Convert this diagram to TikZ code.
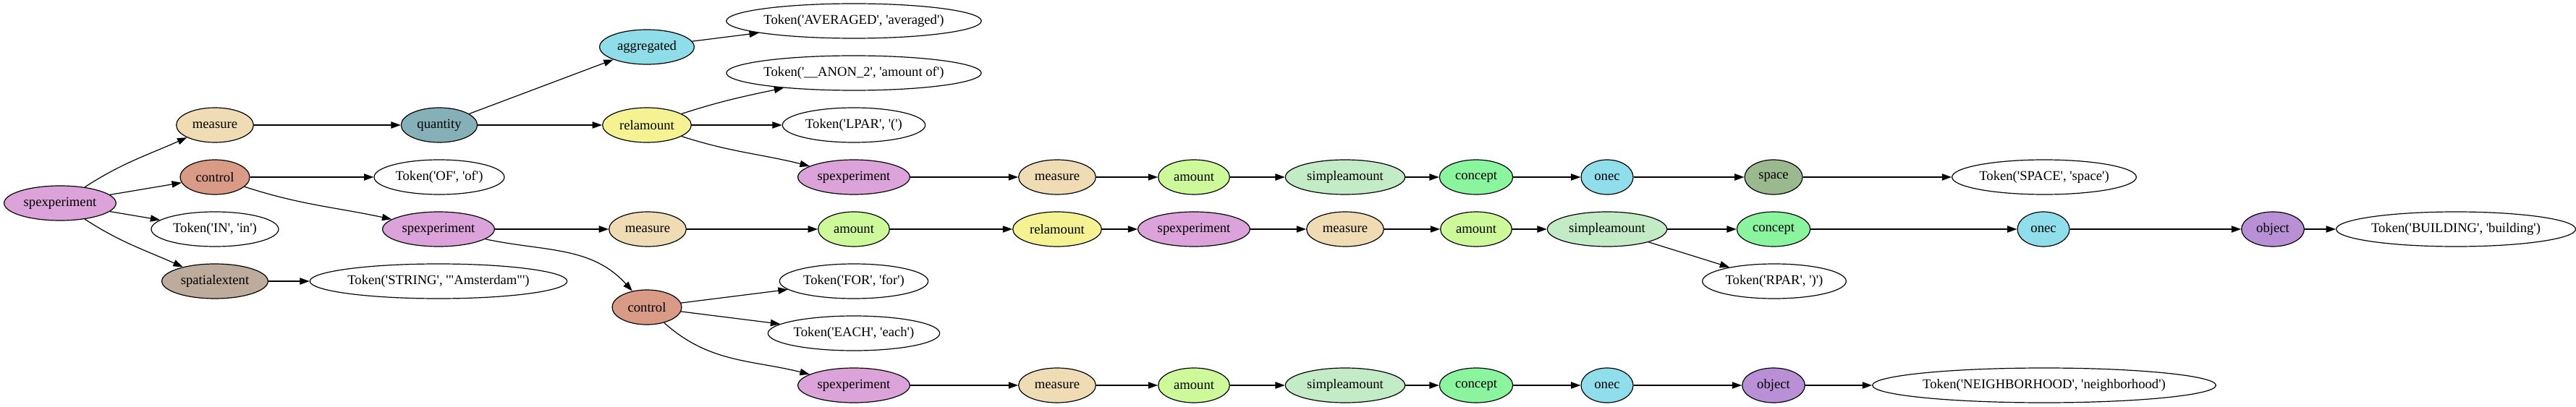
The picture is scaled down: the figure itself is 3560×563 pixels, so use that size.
\documentclass[tikz,border=0pt]{standalone}
\usepackage{fontspec}
\newfontfamily\gvfont{Liberation Serif}
\usetikzlibrary{shapes.geometric,arrows.meta}
\definecolor{cplum}{HTML}{DBA3D9}
\definecolor{cwheat}{HTML}{F0DCB4}
\definecolor{csalmon}{HTML}{D99A86}
\definecolor{ctan}{HTML}{BDAB9B}
\definecolor{ccadet}{HTML}{86B0B8}
\definecolor{ccyan}{HTML}{8FDDE8}
\definecolor{cyellow}{HTML}{F5F294}
\definecolor{clime}{HTML}{CEF99A}
\definecolor{cmint}{HTML}{C3EBC6}
\definecolor{cgreen}{HTML}{8AF59E}
\definecolor{csky}{HTML}{90DEEC}
\definecolor{csage}{HTML}{9BB98E}
\definecolor{cviolet}{HTML}{B98FD6}
\begin{document}
\begin{tikzpicture}[x=0.75pt,y=0.75pt,
  gv/.style={ellipse,draw=black,line width=0.9pt,minimum height=36pt,inner sep=0pt,
    font=\gvfont\fontsize{14}{16}\selectfont},
  tok/.style={gv,fill=white},
  spx/.style={gv,fill=cplum,minimum width=116pt},
  msr/.style={gv,fill=cwheat,minimum width=80pt},
  ctl/.style={gv,fill=csalmon,minimum width=72pt},
  spat/.style={gv,fill=ctan,minimum width=110pt},
  qty/.style={gv,fill=ccadet,minimum width=79pt},
  agg/.style={gv,fill=ccyan,minimum width=98pt},
  rel/.style={gv,fill=cyellow,minimum width=92pt},
  amt/.style={gv,fill=clime,minimum width=74pt},
  simp/.style={gv,fill=cmint,minimum width=124pt},
  cpt/.style={gv,fill=cgreen,minimum width=76pt},
  onc/.style={gv,fill=csky,minimum width=54pt},
  spc/.style={gv,fill=csage,minimum width=60pt},
  obj/.style={gv,fill=cviolet,minimum width=65pt},
  arr/.style={-{Triangle[length=10pt,width=7pt]},line width=0.9pt}]
\useasboundingbox (0,0) rectangle (3560,-563);
% nodes
\node[spx] (n1) at (83,-281) {spexperiment};
\node[msr] (n2) at (297,-173) {measure};
\node[ctl] (n3) at (297,-245) {control};
\node[tok,minimum width=132pt] (n4) at (297,-317) {Token('IN', 'in')};
\node[spat] (n5) at (297,-389) {spatialextent};
\node[qty] (n6) at (607,-173) {quantity};
\node[tok,minimum width=135pt] (n7) at (607,-245) {Token('OF', 'of')};
\node[spx] (n8) at (606,-317) {spexperiment};
\node[tok,minimum width=262pt] (n9) at (606,-389) {Token('STRING', '"Amsterdam"')};
\node[agg] (n10) at (894,-65) {aggregated};
\node[rel] (n11) at (894,-173) {relamount};
\node[msr] (n12) at (895,-317) {measure};
\node[ctl] (n13) at (894,-425) {control};
\node[tok,minimum width=257pt] (n14) at (1180,-29) {Token('AVERAGED', 'averaged')};
\node[tok,minimum width=258pt] (n15) at (1180,-101) {Token('\_\_ANON\_2', 'amount of')};
\node[tok,minimum width=148pt] (n16) at (1180,-173) {Token('LPAR', '(')};
\node[spx] (n17) at (1180,-245) {spexperiment};
\node[amt] (n18) at (1180,-317) {amount};
\node[tok,minimum width=154pt] (n19) at (1180,-389) {Token('FOR', 'for')};
\node[tok,minimum width=178pt] (n20) at (1180,-461) {Token('EACH', 'each')};
\node[spx] (n21) at (1180,-533) {spexperiment};
\node[msr] (n22) at (1461,-245) {measure};
\node[rel] (n23) at (1461,-317) {relamount};
\node[msr] (n24) at (1461,-533) {measure};
\node[amt] (n25) at (1650,-245) {amount};
\node[spx] (n26) at (1650,-317) {spexperiment};
\node[amt] (n27) at (1650,-533) {amount};
\node[simp] (n28) at (1859,-245) {simpleamount};
\node[msr] (n29) at (1859,-317) {measure};
\node[simp] (n30) at (1859,-533) {simpleamount};
\node[cpt] (n31) at (2040,-245) {concept};
\node[amt] (n32) at (2040,-317) {amount};
\node[cpt] (n33) at (2040,-533) {concept};
\node[onc] (n34) at (2221,-245) {onec};
\node[simp] (n35) at (2221,-317) {simpleamount};
\node[onc] (n36) at (2221,-533) {onec};
\node[spc] (n37) at (2451,-245) {space};
\node[cpt] (n38) at (2451,-317) {concept};
\node[obj] (n39) at (2451,-533) {object};
\node[tok,minimum width=149pt] (n40) at (2452,-389) {Token('RPAR', ')')};
\node[tok,minimum width=191pt] (n41) at (2825,-245) {Token('SPACE', 'space')};
\node[onc] (n42) at (2824,-317) {onec};
\node[tok,minimum width=338pt] (n43) at (2825,-533) {Token('NEIGHBORHOOD', 'neighborhood')};
\node[obj] (n44) at (3141,-317) {object};
\node[tok,minimum width=242pt] (n45) at (3394,-317) {Token('BUILDING', 'building')};
% edges
\draw[arr] (n1) to[out=33,in=204] (n2);
\draw[arr] (n1) -- (n3);
\draw[arr] (n1) -- (n4);
\draw[arr] (n1) to[out=-33,in=156] (n5);
\draw[arr] (n2) -- (n6);
\draw[arr] (n3) -- (n7);
\draw[arr] (n3) to[out=-18,in=168] (n8);
\draw[arr] (n5) -- (n9);
\draw[arr] (n6) -- (n10);
\draw[arr] (n6) -- (n11);
\draw[arr] (n10) -- (n14);
\draw[arr] (n11) to[out=18,in=192] (n15);
\draw[arr] (n11) -- (n16);
\draw[arr] (n11) to[out=-18,in=166] (n17);
\draw[arr] (n8) -- (n12);
\draw[arr] (n8) to[out=-12,in=132] (n13);
\draw[arr] (n12) -- (n18);
\draw[arr] (n18) -- (n23);
\draw[arr] (n23) -- (n26);
\draw[arr] (n26) -- (n29);
\draw[arr] (n29) -- (n32);
\draw[arr] (n32) -- (n35);
\draw[arr] (n35) -- (n38);
\draw[arr] (n35) -- (n40);
\draw[arr] (n38) -- (n42);
\draw[arr] (n42) -- (n44);
\draw[arr] (n44) -- (n45);
\draw[arr] (n17) -- (n22);
\draw[arr] (n22) -- (n25);
\draw[arr] (n25) -- (n28);
\draw[arr] (n28) -- (n31);
\draw[arr] (n31) -- (n34);
\draw[arr] (n34) -- (n37);
\draw[arr] (n37) -- (n41);
\draw[arr] (n13) -- (n19);
\draw[arr] (n13) -- (n20);
\draw[arr] (n13) to[out=-42,in=166] (n21);
\draw[arr] (n21) -- (n24);
\draw[arr] (n24) -- (n27);
\draw[arr] (n27) -- (n30);
\draw[arr] (n30) -- (n33);
\draw[arr] (n33) -- (n36);
\draw[arr] (n36) -- (n39);
\draw[arr] (n39) -- (n43);
\end{tikzpicture}
\end{document}
